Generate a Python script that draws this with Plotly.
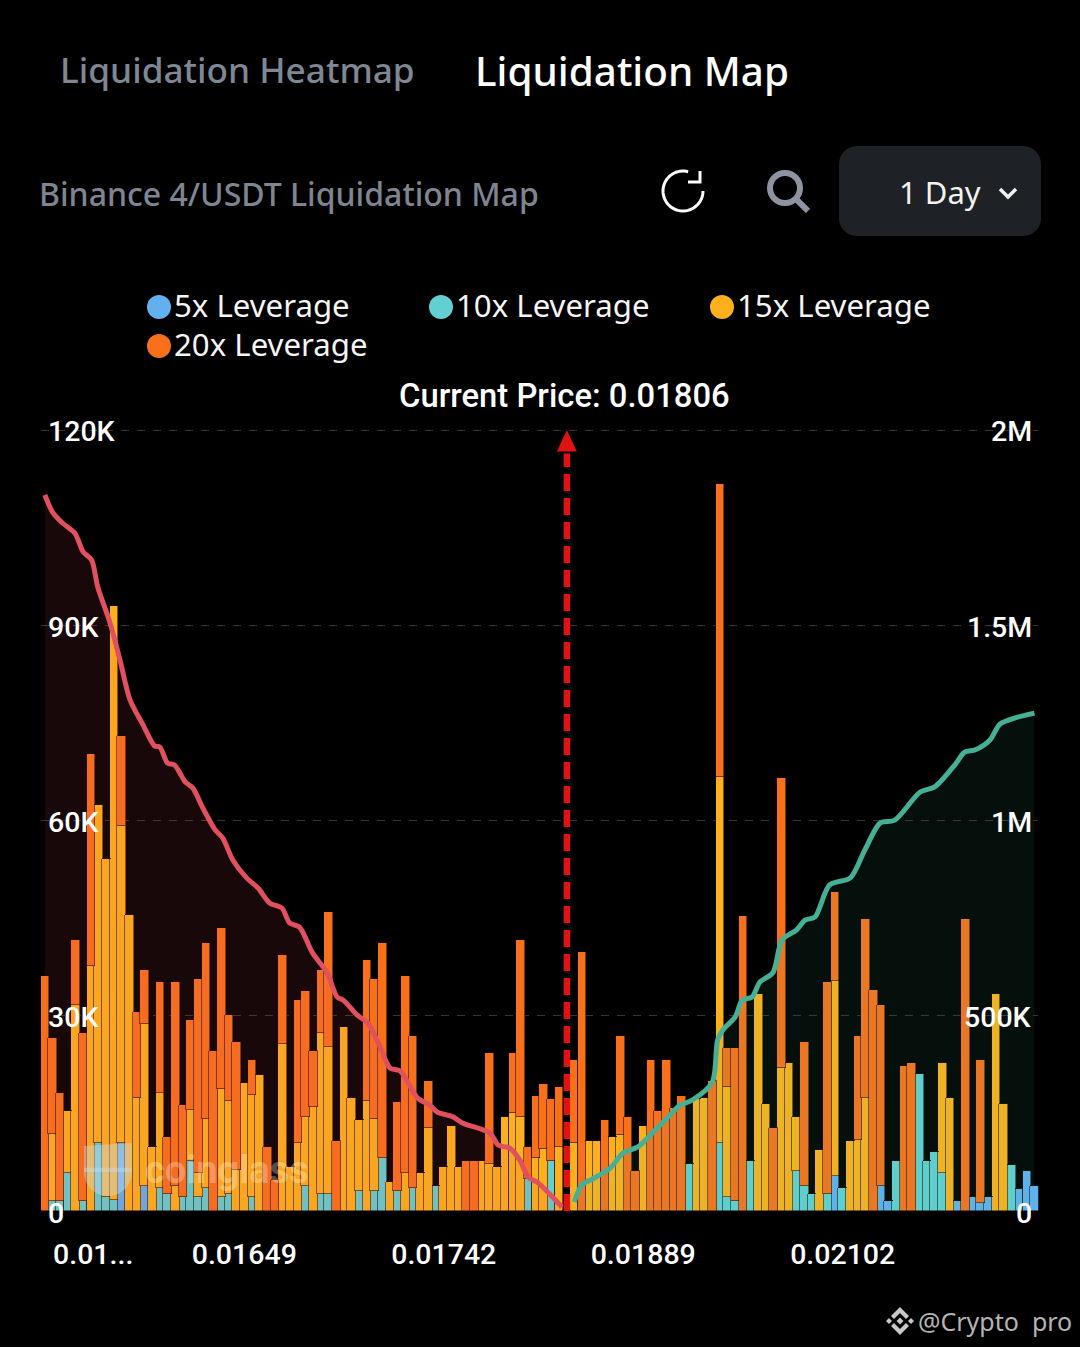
import numpy as np
import plotly.graph_objects as go

W, H = 1080, 1347

leverage_5x = [0,0,0,0,0,0,0,0,0,0, 10.4,0,0,3.9,0,0,0,0,0,0,
    0,0,0,0,0,0,0,0,0,0, 0,0,0,0,0,0,0,0,0,0,
    0,0,0,0,0,0,0,0,0,0, 0,0,0,0,0,0,0,0,0,0,
    0,0,0,0,0,0,0,0,0,0, 0,0,0,0,0,0,0,0,0,0,
    0,0,0,0,0,0,0,0,0,0, 0,0,0,0,0,0,0,0,0,0,
    0,0,0,5.3,0,0,0,0,0,3.9, 1.6,0,0,0,0,0,0,0,0,1.6,
    0,2.1,1.2,2.1,0,0,0,3.4,6.1,3.8]
leverage_10x = [0,1.6,1.6,5.8,0,1.6,0,10.4,2.1,1.7, 0,0,0,0,0,3.5,2.6,0,2.1,7.6,
    2.1,3.5,0,2.1,2.6,0,0,2.1,0,0, 0,0,0,0,3.9,0,2.6,2.6,0,0,
    0,3,0,3,8.1,0,3,0,3.5,0, 0,3.9,0,0,0,0,0,0,0,0,
    0,0,0,4.9,0,0,7.6,0,0,0, 0,0,0,0,0,0,0,0,0,0,
    0,0,0,0,7.2,0,0,0,10.4,2.1, 1.6,0,7.6,0,0,0,0,0,6.2,3.9,
    2.6,0,2.6,0,3.5,0,0,0,0,0, 0,7.6,0,0,21,7.6,9,5.8,0,0,
    0,0,0,0,0,0,7.1,0,0,0]
leverage_15x = [0,10.2,0,9.6,31.7,0,37.6,52.0,52.0,91.2, 48.8,45.4,17.3,24.9,9.9,14.7,0,3.9,0,7.9,
    3.7,10.6,0,16.6,14.3,6.3,19.6,15.7,20.9,0, 0,25.6,6.7,10.4,10.6,15.9,24.8,22.6,0,28.3,
    17.3,11,16.9,11.1,0,4.4,0,5.8,0,5.8, 12.7,0,6.7,13.1,6.7,0,0,7.6,7.2,6.7,
    14.5,15,14.5,0,8.1,9.5,0,9.9,0,10.4, 0,10.8,10.8,0,11.3,11.7,0,0,13.1,0,
    0,0,0,0,0,17.2,17.3,0,56.3,17.0, 0,0,0,33.4,16.4,0,21.9,22.8,8.3,0,
    0,9.4,0,30,0,10.8,10.9,17.3,0,0, 0,0,0,0,0,0,0,17,17.3,0,
    0,0,0,0,33.4,16.4,0,0,0,0]
leverage_20x = [36.1,14.7,16.6,0,9.9,25.8,32.6,0,0,0, 13.8,0,13.3,8.2,0,17.0,8.7,31.3,14.2,13.8,
    29.9,27.1,24.6,24.8,13.2,19.7,0,5.4,0,9.9, 4.8,13.8,0,22.0,19.3,8.7,9.6,20.7,10.8,0,
    0,0,21.6,21.6,33.1,0,13.8,30.3,23.4,0, 7.3,0,0,0,0,7.6,7.6,0,17.0,0,
    0,9.2,27.1,5.0,9.6,10.0,9.6,9.1,0,12.8, 39.8,0,0,14,0,15.2,14.4,6.2,0,23.2,
    15.4,23.2,15.8,17.7,0,0,0,20,45.0,6.0, 23.5,45.3,0,0,0,12.7,44.6,0,0,22.1,
    0,0,32.6,13.7,0,0,16,27.6,33.9,27.7, 0,0,22.3,22.8,0,0,0,0,0,0,
    44.9,0,22,0,0,0,0,0,0,0]
column_index = list(range(len(leverage_5x)))

short_index = [0,1.0,2.3,3.9,5,6.1,6.9,8.5,9.8,11.1,12.8,14.3,15,16,16.9,18.3,19.3,20.6,22.2,23.2,24.5,26.3,27.8,29.3,
    30.9,31.9,33.2,34.9,36.8,38.1,38.9,40.7,42.1,43.7,45,46.3,48.6,50.2,51.1,53.2,54.5,58,59.1,60.6,61.9,63,64.3,66.8,67.4]
short_cum = [1834,1790,1762,1736,1688,1667,1598,1506,1411,1309,1245,1191,1188,1147,1142,1099,1083,1032,976,955,899,853,827,789,
    776,738,727,661,610,548,540,502,481,420,366,359,289,271,254,241,225,200,169,161,131,87,72,23,10]
long_index = [69,70,71.4,73.7,75.4,77.3,79.3,81.5,82.8,84.4,87,87.7,88.4,90,90.9,92.2,93.2,94.9,96.1,98,99.1,100.4,102.3,105,
    106.9,108.9,110.8,114.1,116,118.6,119.9,121.3,123.2,124.5,126.5,129]
long_cum = [23,67,82,110,149,164,202,246,271,284,330,438,464,497,540,548,586,610,694,720,745,753,835,853,
    925,994,1001,1073,1086,1142,1175,1181,1206,1247,1263,1275]

price_index = 68.05
left_ticks = [0, 30, 60, 90, 120]
left_labels = ["0", "30K", "60K", "90K", "120K"]
right_ticks = [0, 500, 1000, 1500, 2000]
right_labels = ["0", "500K", "1M", "1.5M", "2M"]
x_ticks = [6.3, 26, 52, 78, 104]
x_labels = ["0.01...", "0.01649", "0.01742", "0.01889", "0.02102"]

BLUE, TEAL, YELLOW, ORANGE = "#62B0EE", "#62CFD0", "#FDB01D", "#F8701A"
FONT = "Roboto"
UI_FONT = "Noto Sans"


def X(p):
    return p / W


def Y(p):
    return 1 - p / H


fig = go.Figure()
for name, vals, col in [("5x Leverage", leverage_5x, BLUE), ("10x Leverage", leverage_10x, TEAL),
                        ("15x Leverage", leverage_15x, YELLOW), ("20x Leverage", leverage_20x, ORANGE)]:
    fig.add_bar(x=column_index, y=vals, name=name, width=1.12, showlegend=False,
                marker=dict(color=col, line=dict(color="rgba(20,8,0,0.8)", width=0.7)))

fig.add_scatter(x=short_index, y=short_cum, yaxis="y2", mode="lines", showlegend=False, fill="tozeroy",
                fillcolor="rgba(235,80,90,0.10)", line=dict(color="#E0505F", width=5, shape="spline", smoothing=0.8))
fig.add_scatter(x=long_index, y=long_cum, yaxis="y2", mode="lines", showlegend=False, fill="tozeroy",
                fillcolor="rgba(70,200,170,0.08)", line=dict(color="#45B095", width=5, shape="spline", smoothing=0.8))
fig.add_scatter(x=[price_index, price_index], y=[0, 1940], yaxis="y2", mode="lines", showlegend=False,
                line=dict(color="#E01212", width=6.5, dash="17px,7px"))
fig.add_scatter(x=[price_index - 1.3, price_index, price_index + 1.3], y=[1945, 2000, 1945], yaxis="y2",
                mode="lines", fill="toself", fillcolor="#E01212", showlegend=False,
                line=dict(color="#E01212", width=0))

ann = []


def text(s, x, y, size, color="#FFFFFF", anchor="left", weight=400, family=UI_FONT):
    ann.append(dict(text=s, xref="paper", yref="paper", x=X(x), y=Y(y), xanchor=anchor, yanchor="middle",
                    showarrow=False, font=dict(size=size, color=color, family=family, weight=weight)))


text("Liquidation Heatmap", 58, 69, 35.2, "#7F8794", weight=500)
text("Liquidation Map", 473, 70, 40.4, "#FFFFFF", weight=500)
text("Binance 4/USDT Liquidation Map", 37, 193.5, 32, "#7E8590", weight=500)
text("1 Day", 897, 192, 31, "#F2F2F2")
text("Current Price: 0.01806", 564, 396, 32.8, "#FFFFFF", "center", 500, FONT)
for label, dx, dy, ty in [("5x Leverage", 159, 307, 305), ("10x Leverage", 441, 307, 305),
                          ("15x Leverage", 722, 307, 305), ("20x Leverage", 159, 346, 344)]:
    text(label, dx + 13, ty, 31.2, "#F5F5F5")
text("@Crypto  pro", 916, 1321, 25, "#B4B4B4")
text("coinglass", 143, 1170, 38, "rgba(255,255,255,0.30)", weight=700, family=FONT)

axis_font = dict(size=28.5, color="#FFFFFF", family=FONT, weight=500)
for val, lab in zip(left_ticks, left_labels):
    ann.append(dict(text=lab, xref="paper", yref="y", x=X(46), y=val, xanchor="left", yanchor="middle",
                    yshift=-2, showarrow=False, font=axis_font))
for val, lab in zip(right_ticks, right_labels):
    ann.append(dict(text=lab, xref="paper", yref="y2", x=X(1034), y=val, xanchor="right", yanchor="middle",
                    yshift=-2, showarrow=False, font=axis_font))

shapes = []


def path(points, close=False):
    d = "M" + " L".join(f"{X(a):.5f},{Y(b):.5f}" for a, b in points)
    return d + (" Z" if close else "")


def arc(cx, cy, r, a0, a1, n=50):
    t = np.radians(np.linspace(a0, a1, n))
    return list(zip(cx + r * np.cos(t), cy + r * np.sin(t)))


def poly(points, fill=None, line=None, lw=0, close=True, layer="above"):
    shapes.append(dict(type="path", xref="paper", yref="paper", path=path(points, close), layer=layer,
                       fillcolor=fill or "rgba(0,0,0,0)",
                       line=dict(color=line or "rgba(0,0,0,0)", width=lw)))


def circle(cx, cy, r, fill=None, line=None, lw=0):
    shapes.append(dict(type="circle", xref="paper", yref="paper", x0=X(cx - r), x1=X(cx + r), y0=Y(cy + r), y1=Y(cy - r),
                       fillcolor=fill or "rgba(0,0,0,0)", line=dict(color=line or "rgba(0,0,0,0)", width=lw)))


# period button
bx0, bx1, by0, by1, rad = 839, 1041, 146, 236, 18
btn = arc(bx1 - rad, by0 + rad, rad, -90, 0, 12) + arc(bx1 - rad, by1 - rad, rad, 0, 90, 12) + \
    arc(bx0 + rad, by1 - rad, rad, 90, 180, 12) + arc(bx0 + rad, by0 + rad, rad, 180, 270, 12)
poly(btn, fill="#1E2125", layer="below")
poly([(1000, 189), (1008, 197), (1016, 189)], line="#F2F2F2", lw=3.5, close=False)

# refresh icon
poly(arc(683, 191, 20, 0, 285), line="#FFFFFF", lw=3, close=False)
poly([(688, 182), (700, 182), (700, 171)], line="#FFFFFF", lw=3, close=False)
# search icon
circle(785, 188, 15, line="#8D93A0", lw=6)
poly([(796, 199), (808, 211)], line="#8D93A0", lw=6, close=False)

# legend dots
for dx, dy, col in [(159, 307, BLUE), (441, 307, TEAL), (722, 307, YELLOW), (159, 346, ORANGE)]:
    circle(dx, dy, 12, fill=col)

# watermark emblem
poly(arc(108, 1172, 24, -10, 190), fill="rgba(195,225,245,0.40)")
poly([(84, 1146), (132, 1143), (132, 1172), (84, 1172)], fill="rgba(195,225,245,0.40)")

# signature emblem
poly([(900, 1307), (909, 1316), (906, 1319), (900, 1313), (894, 1319), (891, 1316)], fill="#C8C8C8")
poly([(900, 1335), (909, 1326), (906, 1323), (900, 1329), (894, 1323), (891, 1326)], fill="#C8C8C8")
for cx, cy, s in [(900, 1321, 3.5), (889, 1321, 3), (911, 1321, 3)]:
    poly([(cx - s, cy), (cx, cy - s), (cx + s, cy), (cx, cy + s)], fill="#C8C8C8")

plot_top, plot_bottom = 428.05, 1211
plot_left, plot_right = 41, 1038.3

fig.update_layout(
    width=W, height=H, autosize=False, margin=dict(l=0, r=0, t=0, b=0),
    paper_bgcolor="#000000", plot_bgcolor="#000000", barmode="stack", bargap=0,
    annotations=ann, shapes=shapes,
    xaxis=dict(domain=[X(plot_left), X(plot_right)], range=[-0.5, 129.5], tickmode="array", tickvals=x_ticks,
               ticktext=x_labels, tickfont=axis_font, showgrid=False, zeroline=False, showline=False,
               ticks="outside", ticklen=18, tickcolor="rgba(0,0,0,0)", tickangle=0),
    yaxis=dict(domain=[Y(plot_bottom), Y(plot_top)], range=[0, 120.3], tickmode="array", tickvals=left_ticks,
               showticklabels=False, showgrid=True,
               gridcolor="#343434", griddash="8px,8px", gridwidth=1.2, zeroline=False, showline=False),
    yaxis2=dict(overlaying="y", side="right", range=[0, 2005], tickmode="array", tickvals=right_ticks,
                showticklabels=False, showgrid=False, zeroline=False, showline=False),
)

fig.write_html("out.html", config=dict(displayModeBar=False),
               post_script="document.body.style.margin='0';document.body.style.background='#000';")
